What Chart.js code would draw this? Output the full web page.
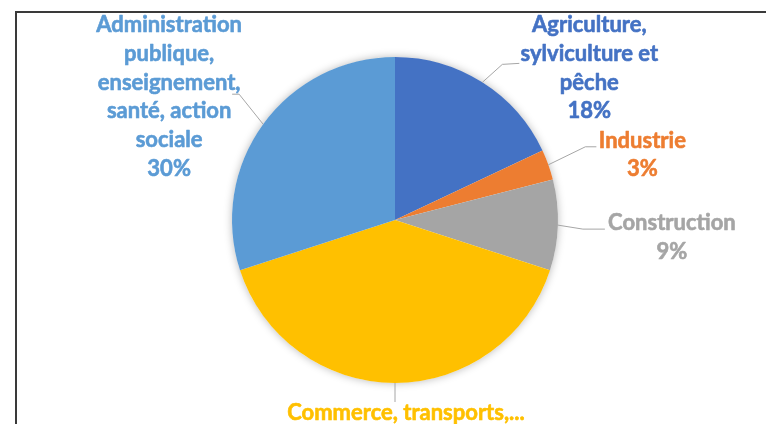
<!DOCTYPE html>
<html lang="fr">
<head>
<meta charset="utf-8">
<title>Répartition des emplois par secteur</title>
<script src="https://cdn.jsdelivr.net/npm/chart.js@4.4.0/dist/chart.umd.min.js"></script>
<style>
    html, body { margin: 0; padding: 0; background: #fff; }
    #wrap { width: 766px; height: 424px; position: relative; }
</style>
</head>
<body>
<div id="wrap">
    <canvas id="sectorPie" width="766" height="424"></canvas>
</div>
<script>
// Sectors, with the line breaks used in the labels
const sectors = [
    ['Agriculture,', 'sylviculture et', 'pêche'],
    ['Industrie'],
    ['Construction'],
    ['Commerce, transports,...'],
    ['Administration', 'publique,', 'enseignement,', 'santé, action', 'sociale']
];

// Share of each sector, in %
const shares = [18, 3, 9, 40, 30];

const sliceColors = ['#4472C4', '#ED7D31', '#A5A5A5', '#FFC000', '#5B9BD5'];

// Label placement relative to the point where the leader line leaves the slice:
// elbow / end of the leader line, text centre x and first baseline
const labelLayout = [
    { elbow: [20, -18], end: [37, -19], text: [107, -50] },
    { elbow: [37, -18], end: [48, -18], text: [94, -17] },
    { elbow: [25, 4], end: [47, 4], text: [114, 5] },
    { elbow: [0, 19], end: [0, 19], text: [11, 37] },
    { elbow: [-24, -30], end: [-31, -30], text: [-94, -92] }
];

const LINE_HEIGHT = 28.7;
const LABEL_FONT = 'bold 22px Lato, "Open Sans", sans-serif';

// Soft glow under the whole pie
const pieShadow = {
    id: 'pieShadow',
    beforeDatasetsDraw(chart) {
        const arc = chart.getDatasetMeta(0).data[0];
        if (!arc) return;
        const ctx = chart.ctx;
        ctx.save();
        ctx.shadowColor = 'rgba(0, 0, 0, 0.28)';
        ctx.shadowBlur = 9;
        ctx.fillStyle = '#fff';
        ctx.beginPath();
        ctx.arc(arc.x, arc.y, arc.outerRadius, 0, Math.PI * 2);
        ctx.fill();
        ctx.restore();
    }
};

// Outside labels with leader lines
const outsideLabels = {
    id: 'outsideLabels',
    afterDatasetsDraw(chart) {
        const ctx = chart.ctx;
        const meta = chart.getDatasetMeta(0);
        meta.data.forEach((arc, i) => {
            const mid = (arc.startAngle + arc.endAngle) / 2;
            const ax = arc.x + Math.cos(mid) * arc.outerRadius;
            const ay = arc.y + Math.sin(mid) * arc.outerRadius;
            const lay = labelLayout[i];

            ctx.save();
            ctx.strokeStyle = '#a6a6a6';
            ctx.lineWidth = 1;
            ctx.beginPath();
            ctx.moveTo(ax, ay);
            ctx.lineTo(ax + lay.elbow[0], ay + lay.elbow[1]);
            ctx.lineTo(ax + lay.end[0], ay + lay.end[1]);
            ctx.stroke();

            const lines = sectors[i].concat([shares[i] + '%']);
            ctx.font = LABEL_FONT;
            ctx.fillStyle = sliceColors[i];
            ctx.strokeStyle = sliceColors[i];
            ctx.lineWidth = 0.6;
            ctx.lineJoin = 'round';
            ctx.textAlign = 'center';
            ctx.textBaseline = 'alphabetic';
            lines.forEach((line, k) => {
                const tx = ax + lay.text[0];
                const ty = ay + lay.text[1] + k * LINE_HEIGHT;
                ctx.fillText(line, tx, ty);
                ctx.strokeText(line, tx, ty); // a touch heavier than plain bold
            });
            ctx.restore();
        });
    }
};

// Frame around the chart area (left and top edges visible)
const frame = {
    id: 'frame',
    afterDraw(chart) {
        const ctx = chart.ctx;
        ctx.save();
        ctx.fillStyle = '#3a3a3a';
        ctx.fillRect(15, 11, 2, 413);
        ctx.fillRect(15, 11, 751, 2);
        ctx.restore();
    }
};

new Chart(document.getElementById('sectorPie'), {
    type: 'pie',
    data: {
        labels: sectors,
        datasets: [{
            data: shares,
            backgroundColor: sliceColors,
            borderWidth: 0
        }]
    },
    options: {
        responsive: false,
        animation: false,
        events: [],
        layout: {
            padding: { top: 57, bottom: 41, left: 232, right: 208 }
        },
        plugins: {
            legend: { display: false },
            tooltip: { enabled: false }
        }
    },
    plugins: [pieShadow, outsideLabels, frame]
});
</script>
</body>
</html>
